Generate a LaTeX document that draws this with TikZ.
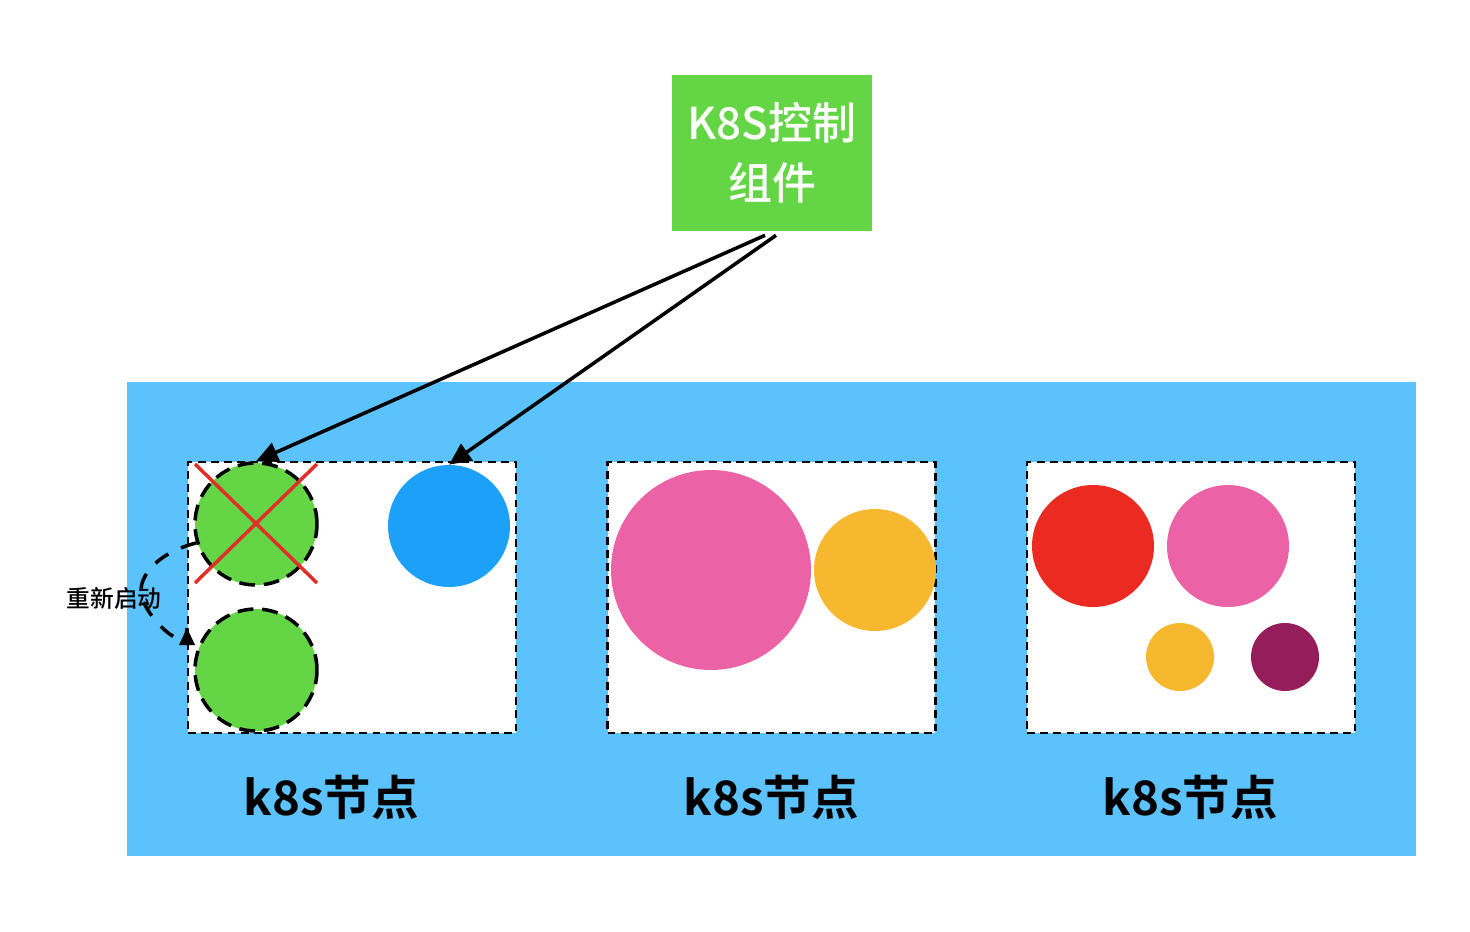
\documentclass[tikz,border=0pt]{standalone}
\usepackage{fontspec}
\newfontfamily\cjk{Noto Sans CJK SC}
\newfontfamily\cjkm{Noto Sans CJK SC Medium}
\newfontfamily\cjkb{Noto Sans CJK SC Bold}
\usetikzlibrary{arrows.meta}
\definecolor{bgblue}{HTML}{5BC2FB}
\definecolor{ctrlgreen}{HTML}{64D646}
\definecolor{podblue}{HTML}{1DA1F8}
\definecolor{podpink}{HTML}{EC62A6}
\definecolor{podyellow}{HTML}{F5B82E}
\definecolor{podred}{HTML}{EB2A21}
\definecolor{podpurple}{HTML}{961D5C}
\definecolor{xred}{HTML}{E0302A}
\tikzset{
  nodebox/.style={draw=black, fill=white, line width=1.2pt, dash pattern=on 4.5pt off 3pt, inner sep=0pt, minimum width=6.56cm, minimum height=5.42cm},
  pod/.style={circle, inner sep=0pt, minimum size=2.44cm},
  dashpod/.style={pod, draw=black, line width=2pt, dash pattern=on 9pt off 5pt},
  label/.style={font=\cjkb\fontsize{27}{30}\selectfont, text=black},
  conn/.style={line width=2pt, -{Triangle[length=0.44cm,width=0.4cm]}},
}
\begin{document}
\begin{tikzpicture}[x=0.02cm,y=-0.02cm]
\useasboundingbox (0,0) rectangle (1470,932);
% background cluster
\fill[bgblue] (127,382) rectangle (1416,856);
% control component
\node[fill=ctrlgreen, minimum width=4cm, minimum height=3.12cm, inner sep=0pt, align=center,
  text=white, font=\cjkm\fontsize{25}{34}\selectfont] (ctrl) at (772,153) {K8S控制\\组件};
% node boxes
\node[nodebox] (n1) at (352,597.5) {};
\node[nodebox] (n2) at (771.5,597.5) {};
\node[nodebox] (n3) at (1191,597.5) {};
% pods box 1
\node[dashpod, fill=ctrlgreen] (p1) at (256,524) {};
\node[dashpod, fill=ctrlgreen] (p2) at (256,670) {};
\node[pod, fill=podblue] (p3) at (449,526) {};
\draw[xred, line width=2pt] (195,464) -- (317,583) (317,464) -- (195,583);
% pods box 2
\node[pod, fill=podpink, minimum size=4cm] (p4) at (711,570) {};
\node[pod, fill=podyellow] (p5) at (875,570) {};
% pods box 3
\node[pod, fill=podred] (p6) at (1093,546) {};
\node[pod, fill=podpink] (p7) at (1228,546) {};
\node[pod, fill=podyellow, minimum size=1.36cm] (p8) at (1180,657) {};
\node[pod, fill=podpurple, minimum size=1.36cm] (p9) at (1285,657) {};
% labels
\node[label] (l1) at (331,797) {k8s节点};
\node[label] (l2) at (771,797) {k8s节点};
\node[label] (l3) at (1190,797) {k8s节点};
% connectors
\draw[conn] ([xshift=-0.14cm,yshift=-0.08cm]ctrl.south) -- (p1.north);
\draw[conn] ([xshift=0.08cm,yshift=-0.08cm]ctrl.south) -- (p3.north);
% restart
\coordinate (rs) at (196,543);
\coordinate (re) at (187,628);
\draw[line width=2pt, dash pattern=on 9pt off 8pt] (rs) .. controls (150,555) and (132,585) .. (145,605) .. controls (155,625) and (187,655) .. (re);
\fill[black] (re) -- ++(-8,17) -- ++(16,0) -- cycle;
\node[font=\cjkm\fontsize{13.5}{15}\selectfont] (rl) at (114,598) {重新启动};
\end{tikzpicture}
\end{document}
